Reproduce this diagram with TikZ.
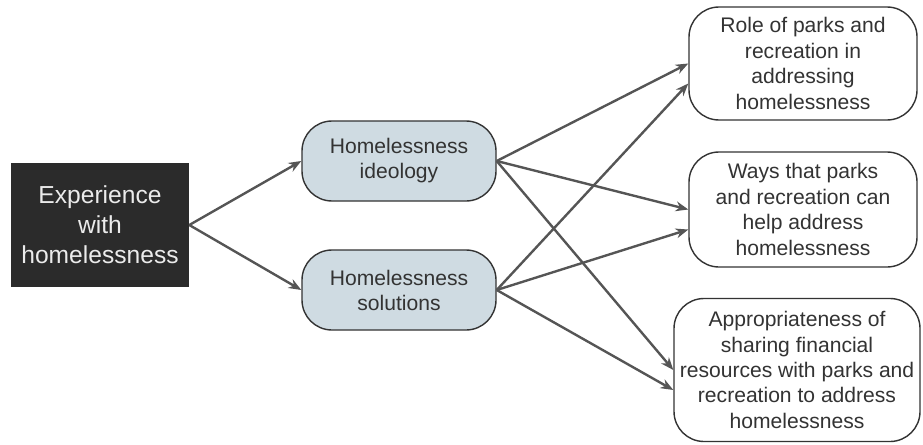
\documentclass[tikz,border=0pt]{standalone}
\usepackage{fontspec}
\setmainfont{Liberation Sans}
\usepackage{xcolor}
\usetikzlibrary{arrows.meta, positioning}

\definecolor{boxblack}{HTML}{2B2B2B}
\definecolor{boxblue}{HTML}{CFDBE2}
\definecolor{linegray}{HTML}{555555}
\definecolor{textgray}{HTML}{333333}

\begin{document}
\begin{tikzpicture}[>={Stealth[length=9pt, width=7pt]},
  source/.style={fill=boxblack, text=white!92!black, minimum width=4.45cm, minimum height=3.1cm, inner sep=0pt, align=center, font=\fontsize{17.5}{21.3}\selectfont},
  theme/.style={draw=textgray, line width=1pt, fill=boxblue, text=textgray, rounded corners=0.75cm, minimum width=4.85cm, minimum height=2cm, inner sep=0pt, align=center, font=\fontsize{15}{17.8}\selectfont},
  outcome/.style={draw=textgray, line width=1pt, fill=white, text=textgray, rounded corners=0.75cm, minimum width=5.7cm, inner sep=0pt, align=center, font=\fontsize{15}{18.1}\selectfont},
  link/.style={->, line width=1.7pt, draw=linegray},
  ]
  \useasboundingbox (0,0) rectangle (23.075,11.1);
  % Left node
  \node[source] (exp) at (2.5, 5.475) {Experience\\with\\homelessness};
  % Middle nodes
  \node[theme] (ideo) at (9.975, 7.075) {Homelessness\\ideology};
  \node[theme] (sol) at (9.975, 3.85) {Homelessness\\solutions};
  % Right nodes
  \node[outcome, minimum height=2.825cm] (role) at (20.075, 9.5125) {Role of parks and\\recreation in\\addressing\\homelessness};
  \node[outcome, minimum height=2.875cm] (ways) at (20.075, 5.8625) {Ways that parks\\and recreation can\\help address\\homelessness};
  \node[outcome, minimum width=6.15cm, minimum height=3.575cm] (appr) at (19.925, 1.85) {Appropriateness of\\sharing financial\\resources with parks and\\recreation to address\\homelessness};

  % Arrows
  \draw[link] (exp.east) -- (ideo.west);
  \draw[link] (exp.east) -- (sol.west);
  \draw[link] (ideo.east) -- (role.west);
  \draw[link] (ideo.east) -- (ways.west);
  \draw[link] (ideo.east) -- (appr.west);
  \draw[link] (sol.east) -- ([yshift=-0.5cm]role.west);
  \draw[link] (sol.east) -- ([yshift=-0.5cm]ways.west);
  \draw[link] (sol.east) -- ([yshift=-0.5cm]appr.west);
\end{tikzpicture}
\end{document}
